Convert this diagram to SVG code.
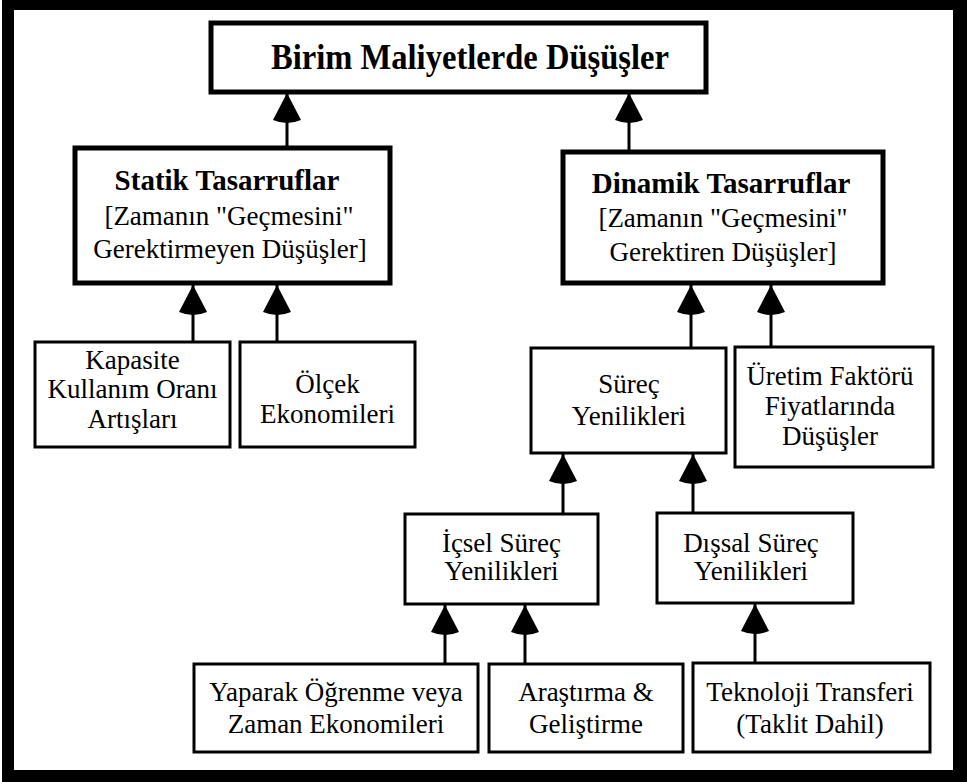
<svg xmlns="http://www.w3.org/2000/svg" width="967" height="782" viewBox="0 0 967 782">
  <style>
    .box { fill: #fff; stroke: #000; stroke-width: 3; }
    .box.heavy { stroke-width: 5; }
    .t { font-family: "Liberation Serif", "Times New Roman", serif; font-size: 27px; fill: #000; text-anchor: middle; }
    .b { font-weight: bold; font-size: 29px; }
    .title { font-weight: bold; font-size: 36px; }
    .link { stroke: #000; stroke-width: 3; fill: none; marker-end: url(#head); }
  </style>
  <defs>
    <!-- filled arrowhead with a slightly bulging base, tip on the line end -->
    <marker id="head" viewBox="-4 -16 36 32" markerWidth="36" markerHeight="32" refX="30" refY="0" markerUnits="userSpaceOnUse" orient="auto">
      <path d="M30,0 L3,-14 Q-3,0 3,14 Z" fill="#000"/>
    </marker>
  </defs>

  <!-- heavy outer frame -->
  <rect x="2" y="0" width="965" height="782" fill="#000"/>
  <rect x="14" y="10" width="939" height="760" fill="#fff"/>

  <g id="connectors">
    <line class="link" x1="287" y1="148" x2="287" y2="93"/>
    <line class="link" x1="629" y1="152" x2="629" y2="93"/>
    <line class="link" x1="193" y1="342" x2="193" y2="285"/>
    <line class="link" x1="277" y1="342" x2="277" y2="285"/>
    <line class="link" x1="691" y1="348" x2="691" y2="285"/>
    <line class="link" x1="771" y1="347" x2="771" y2="285"/>
    <line class="link" x1="563" y1="514" x2="563" y2="454"/>
    <line class="link" x1="693" y1="513" x2="693" y2="454"/>
    <line class="link" x1="445" y1="664" x2="445" y2="605"/>
    <line class="link" x1="525" y1="664" x2="525" y2="605"/>
    <line class="link" x1="755" y1="663" x2="755" y2="604"/>
  </g>

  <g id="birim-maliyet">
    <rect class="box heavy" x="211" y="23" width="495" height="69"/>
    <text class="t title" x="470" y="69" textLength="398" lengthAdjust="spacingAndGlyphs">Birim Maliyetlerde Düşüşler</text>
  </g>

  <g id="statik">
    <rect class="box heavy" x="75" y="148" width="315" height="135"/>
    <text class="t b" x="227" y="190">Statik Tasarruflar</text>
    <text class="t" x="229" y="225">[Zamanın &quot;Geçmesini&quot;</text>
    <text class="t" x="230" y="258">Gerektirmeyen Düşüşler]</text>
  </g>

  <g id="dinamik">
    <rect class="box heavy" x="563" y="152" width="320" height="131"/>
    <text class="t b" x="721" y="193">Dinamik Tasarruflar</text>
    <text class="t" x="723" y="227">[Zamanın &quot;Geçmesini&quot;</text>
    <text class="t" x="723" y="261">Gerektiren Düşüşler]</text>
  </g>

  <g id="kapasite">
    <rect class="box" x="35" y="342" width="195" height="105"/>
    <text class="t" x="132.5" y="369">Kapasite</text>
    <text class="t" x="132.5" y="398">Kullanım Oranı</text>
    <text class="t" x="132.5" y="428">Artışları</text>
  </g>

  <g id="olcek">
    <rect class="box" x="240" y="342" width="175" height="105"/>
    <text class="t" x="327.5" y="393">Ölçek</text>
    <text class="t" x="327.5" y="423">Ekonomileri</text>
  </g>

  <g id="surec">
    <rect class="box" x="531" y="348" width="195" height="105"/>
    <text class="t" x="629" y="393">Süreç</text>
    <text class="t" x="629" y="425">Yenilikleri</text>
  </g>

  <g id="uretim">
    <rect class="box" x="735" y="347" width="198" height="120"/>
    <text class="t" x="830" y="385">Üretim Faktörü</text>
    <text class="t" x="830" y="415">Fiyatlarında</text>
    <text class="t" x="830" y="445">Düşüşler</text>
  </g>

  <g id="icsel">
    <rect class="box" x="405" y="514" width="193" height="90"/>
    <text class="t" x="501.5" y="552">İçsel Süreç</text>
    <text class="t" x="501.5" y="580">Yenilikleri</text>
  </g>

  <g id="dissal">
    <rect class="box" x="657" y="513" width="196" height="90"/>
    <text class="t" x="751" y="552">Dışsal Süreç</text>
    <text class="t" x="751" y="580">Yenilikleri</text>
  </g>

  <g id="yaparak">
    <rect class="box" x="194" y="664" width="284" height="88"/>
    <text class="t" x="336" y="701">Yaparak Öğrenme veya</text>
    <text class="t" x="336" y="733">Zaman Ekonomileri</text>
  </g>

  <g id="arastirma">
    <rect class="box" x="489" y="664" width="194" height="88"/>
    <text class="t" x="586" y="701">Araştırma &amp;</text>
    <text class="t" x="586" y="733">Geliştirme</text>
  </g>

  <g id="teknoloji">
    <rect class="box" x="693" y="663" width="237" height="89"/>
    <text class="t" x="810" y="701">Teknoloji Transferi</text>
    <text class="t" x="810" y="733">(Taklit Dahil)</text>
  </g>
</svg>
